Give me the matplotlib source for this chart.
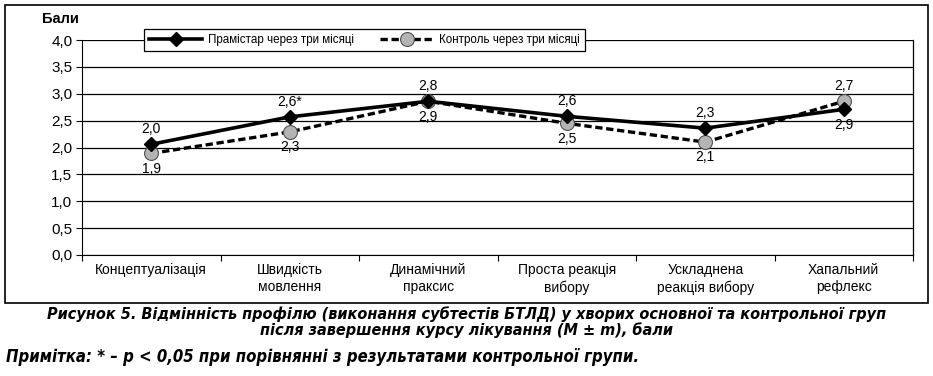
import matplotlib.pyplot as plt
from matplotlib.patches import Rectangle

categories = ["Концептуалізація", "Швидкість\nмовлення", "Динамічний\nпраксис",
              "Проста реакція\nвибору", "Ускладнена\nреакція вибору", "Хапальний\nрефлекс"]
pramistar = [2.06, 2.57, 2.86, 2.58, 2.36, 2.71]
kontrol = [1.89, 2.29, 2.86, 2.45, 2.10, 2.86]
pramistar_labels = ["2,0", "2,6*", "2,8", "2,6", "2,3", "2,7"]
kontrol_labels = ["1,9", "2,3", "2,9", "2,5", "2,1", "2,9"]
yticks = [0.0, 0.5, 1.0, 1.5, 2.0, 2.5, 3.0, 3.5, 4.0]

plt.rcParams["font.family"] = ["Liberation Sans", "DejaVu Sans"]

fig = plt.figure(figsize=(9.33, 3.76), dpi=100)
fig.patches.append(Rectangle((5 / 933, 1 - 303 / 376), 923 / 933, 298 / 376,
                             transform=fig.transFigure, fill=False, lw=1.2, ec="black"))
ax = fig.add_axes([82 / 933, 1 - 255 / 376, 831 / 933, 215 / 376])

x = list(range(len(categories)))
ax.plot(x, pramistar, color="black", lw=2.6, marker="D", ms=7, mfc="black", mec="black",
        label="Прамістар через три місяці", zorder=4)
ax.plot(x, kontrol, color="black", lw=2.4, ls=(0, (2.2, 1.1)), marker="o", ms=10,
        mfc="#b4b4b4", mec="#505050", mew=0.8, label="Контроль через три місяці", zorder=3)

for i in x:
    ax.annotate(pramistar_labels[i], (i, max(pramistar[i], kontrol[i])), xytext=(0, 6),
                textcoords="offset points", ha="center", va="bottom", fontsize=10)
    ax.annotate(kontrol_labels[i], (i, min(pramistar[i], kontrol[i])), xytext=(0, -6),
                textcoords="offset points", ha="center", va="top", fontsize=10)

ax.set_xlim(-0.5, len(categories) - 0.5)
ax.set_ylim(0, 4)
ax.set_yticks(yticks)
ax.set_yticklabels([f"{v:.1f}".replace(".", ",") for v in yticks], fontsize=11)
ax.set_xticks([i - 0.5 for i in range(len(categories) + 1)])
ax.set_xticklabels([])
ax.set_xticks(x, minor=True)
ax.set_xticklabels(categories, minor=True, fontsize=10, linespacing=1.25)
ax.tick_params(axis="x", which="minor", length=0, pad=6)
ax.tick_params(axis="x", which="major", length=4, direction="out")
ax.tick_params(axis="y", length=4, direction="out", pad=3)
ax.yaxis.grid(True, color="black", lw=0.9)
ax.set_axisbelow(True)
ax.spines["top"].set_visible(False)
ax.spines["right"].set_linewidth(0.9)
ax.text(-0.026, 1.065, "Бали", transform=ax.transAxes, fontsize=10.5, fontweight="bold",
        ha="center", va="bottom")

leg = ax.legend(loc="center left", bbox_to_anchor=(0.067, 1.0), ncol=2, fontsize=8.4,
                frameon=True, fancybox=False, edgecolor="black", framealpha=1,
                handlelength=4.6, borderpad=0.45, columnspacing=2.2, handletextpad=0.5)
leg.get_frame().set_linewidth(0.9)

cap_kw = dict(fontweight="bold", style="italic", stretch="condensed",
              family=["DejaVu Sans", "Liberation Sans"])
fig.text(0.5, 1 - 322 / 376, "Рисунок 5. Відмінність профілю (виконання субтестів БТЛД) у хворих основної та контрольної груп\nпісля завершення курсу лікування (M ± m), бали",
         ha="center", va="center", fontsize=11.6, linespacing=1.02, **cap_kw)
fig.text(6 / 933, 1 - 357 / 376, "Примітка: * – p < 0,05 при порівнянні з результатами контрольної групи.",
         ha="left", va="center", fontsize=12, **cap_kw)

fig.savefig("out.png", dpi=100)
